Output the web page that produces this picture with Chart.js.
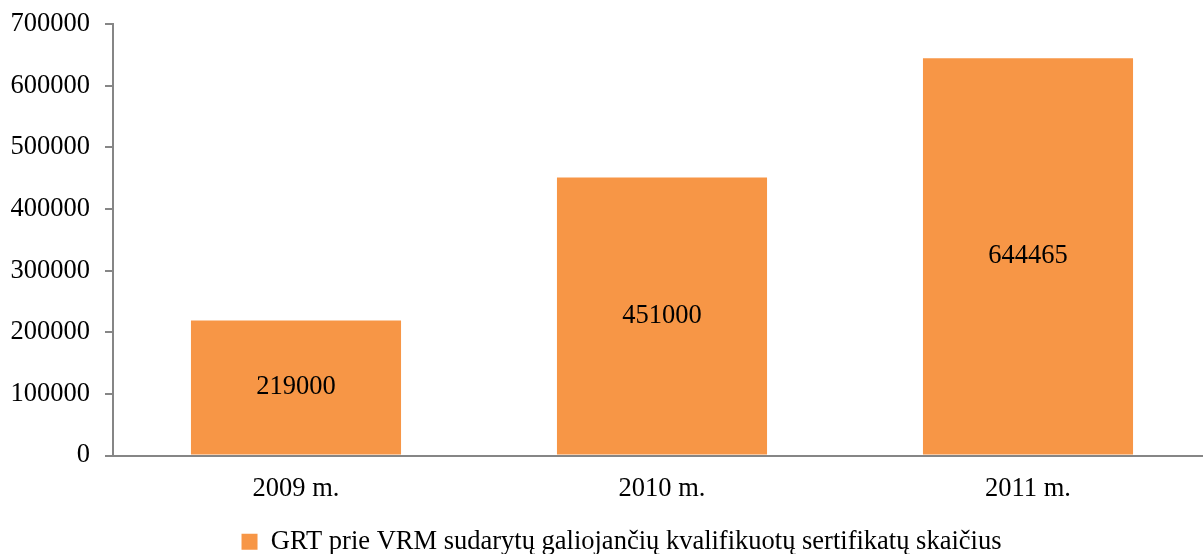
<!DOCTYPE html>
<html>
<head>
<meta charset="utf-8">
<script src="https://cdn.jsdelivr.net/npm/chart.js@4.4.0/dist/chart.umd.min.js"></script>
<style>
  html, body { margin: 0; padding: 0; background: #fff; overflow: hidden; }
  #wrap { width: 1242px; height: 554px; }
</style>
</head>
<body>
<div id="wrap"><canvas id="grafico"></canvas></div>
<script>
const metai = ['2009 m.', '2010 m.', '2011 m.'];
const sertifikatai = [219000, 451000, 644465];
const yTicks = [0, 100000, 200000, 300000, 400000, 500000, 600000, 700000];
const serijosPavadinimas = 'GRT prie VRM sudarytų galiojančių kvalifikuotų sertifikatų skaičius';

Chart.defaults.font.family = '"Liberation Serif", "Times New Roman", serif';
Chart.defaults.font.size = 26.5;
Chart.defaults.color = '#000';

// reiksmes stulpeliu viduryje
const reiksmes = {
    id: 'reiksmes',
    afterLayout(chart) {
        // legenda truputi i desine
        chart.legend.left += 16;
        chart.legend.right += 16;
    },
    afterDatasetsDraw(chart) {
        const ctx = chart.ctx;
        ctx.save();
        ctx.font = '26.5px "Liberation Serif", serif';
        ctx.fillStyle = '#000';
        ctx.textAlign = 'center';
        ctx.textBaseline = 'middle';
        chart.getDatasetMeta(0).data.forEach((bar, i) => {
            ctx.fillText(sertifikatai[i], bar.x, (bar.y + bar.base) / 2);
        });
        ctx.restore();
    }
};

const ctx = document.getElementById('grafico').getContext('2d');
new Chart(ctx, {
    type: 'bar',
    data: {
        labels: metai,
        datasets: [{
            label: serijosPavadinimas,
            data: sertifikatai,
            backgroundColor: '#F79646',
            borderWidth: 0,
            categoryPercentage: 1,
            barPercentage: 0.574
        }]
    },
    options: {
        responsive: true,
        maintainAspectRatio: false,
        animation: false,
        layout: { padding: { top: 0, right: 31, left: 0, bottom: -11 } },
        plugins: {
            tooltip: { enabled: false },
            legend: {
                position: 'bottom',
                labels: { boxWidth: 16, boxHeight: 16, padding: 0, color: '#000' }
            }
        },
        scales: {
            x: {
                grid: { display: false, drawTicks: true, tickLength: 8, color: '#868686' },
                border: { color: '#868686', width: 2 },
                ticks: { padding: 10 },
                afterFit: s => { s.height = 73; }
            },
            y: {
                min: 0,
                max: 700000,
                afterBuildTicks: s => { s.ticks = yTicks.map(v => ({ value: v })); },
                grid: { drawOnChartArea: false, tickLength: 8, color: '#868686', lineWidth: 2 },
                border: { color: '#868686', width: 2 },
                ticks: { padding: 15, callback: v => String(v) },
                afterFit: s => { s.width = 113; s.paddingTop = 24; }
            }
        }
    },
    plugins: [reiksmes]
});
</script>
</body>
</html>
